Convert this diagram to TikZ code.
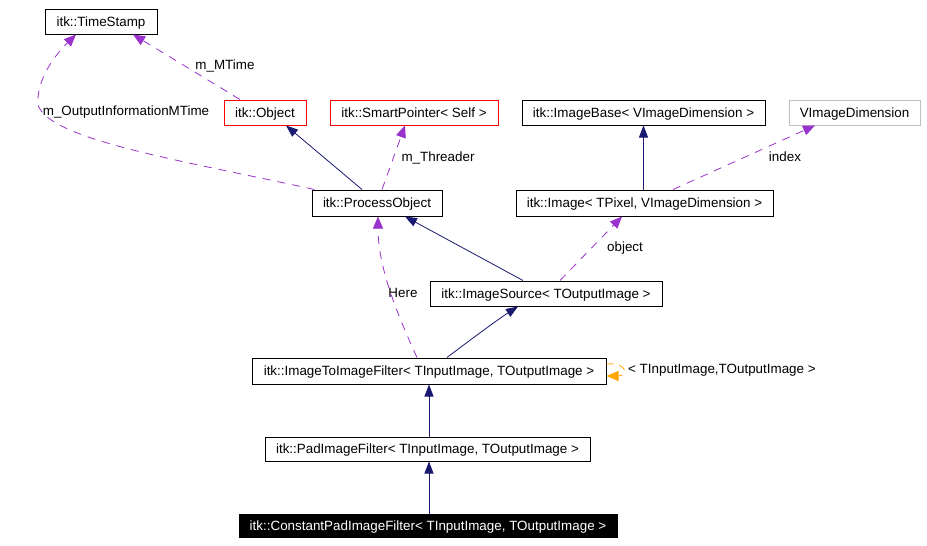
\documentclass[tikz,border=0pt]{standalone}
\usepackage{fontspec}
\setmainfont{Liberation Sans}
\usetikzlibrary{arrows.meta,calc}
\definecolor{navyc}{HTML}{191970}
\definecolor{purplec}{HTML}{9A32CD}
\definecolor{orangec}{HTML}{FFA500}
\definecolor{grayc}{HTML}{BFBFBF}
\begin{document}
\begin{tikzpicture}[x=1pt,y=-1pt,
  font=\fontsize{13.4}{15}\selectfont,
  box/.style={draw=black,line width=1pt,rectangle,inner sep=0pt,minimum height=25pt,text height=12pt,text depth=3pt},
  redbox/.style={box,draw=red},
  graybox/.style={box,draw=grayc},
  mainbox/.style={box,fill=black,text=white},
  inh/.style={draw=navyc,line width=0.8pt,-{Triangle[length=12pt,width=9pt]}},
  use/.style={draw=purplec,line width=0.8pt,dash pattern=on 8pt off 7pt,-{Triangle[length=12pt,width=10pt]},fill=none},
  tmpl/.style={draw=orangec,line width=0.8pt,dash pattern=on 7pt off 6pt,-{Triangle[length=12pt,width=10pt]},fill=none},
  lbl/.style={inner sep=0pt,anchor=center}]
\useasboundingbox (0,0) rectangle (927,546);
\fill[white] (0,0) rectangle (927,546);
% nodes
\node[box,minimum width=112pt] (ts) at (101,21.5) {itk::TimeStamp};
\node[redbox,minimum width=82pt] (obj) at (265,112.5) {itk::Object};
\node[redbox,minimum width=168pt] (sp) at (414,112.5) {itk::SmartPointer< Self >};
\node[box,minimum width=243pt] (ib) at (643.5,112.5) {itk::ImageBase< VImageDimension >};
\node[graybox,minimum width=131pt] (vd) at (854.5,112.5) {VImageDimension};
\node[box,minimum width=130pt,minimum height=26pt] (po) at (377,203) {itk::ProcessObject};
\node[box,minimum width=257pt,minimum height=26pt] (im) at (644.5,203) {itk::Image< TPixel, VImageDimension >};
\node[box,minimum width=232pt] (is) at (546,293.5) {itk::ImageSource< TOutputImage >};
\node[box,minimum width=354pt,minimum height=26pt] (itif) at (429,371) {itk::ImageToImageFilter< TInputImage, TOutputImage >};
\node[box,minimum width=325pt,minimum height=24pt] (pif) at (427.5,449) {itk::PadImageFilter< TInputImage, TOutputImage >};
\node[mainbox,minimum width=378pt,minimum height=23pt] (cp) at (428,525.5) {itk::ConstantPadImageFilter< TInputImage, TOutputImage >};
% labels
\node[lbl] (l1) at (225,66) {m\_MTime};
\node[lbl] (l2) at (126,112) {m\_OutputInformationMTime};
\node[lbl] (l3) at (438,158) {m\_Threader};
\node[lbl] (l4) at (785,157) {index};
\node[lbl] (l5) at (625,248) {object};
\node[lbl] (l6) at (403,293) {Here};
\node[lbl,anchor=west] (l7) at (628,370) {< TInputImage,TOutputImage >};
% edges
\draw[inh] ($(po.north)+(-15,0)$) -- ($(obj.south)+(21,0)$);
\draw[use] ($(po.north)+(5,0)$) -- ($(sp.south)+(-9,0)$);
\draw[use] ($(obj.north)+(-25,0)$) -- ($(ts.south)+(32,0)$);
\draw[use] ($(po.north west)+(3,0)$) .. controls (180,160) and (50,140) .. (38,105) .. controls (36,80) and (55,55) .. ($(ts.south)+(-25,0)$);
\draw[inh] (im.north -| ib.south) -- (ib.south);
\draw[use] ($(im.north)+(28.5,0)$) -- ($(vd.south)+(-39.5,0)$);
\draw[inh] ($(is.north)+(-23,0)$) -- ($(po.south)+(28,0)$);
\draw[use] ($(is.north)+(14,0)$) -- ($(im.south)+(-22.5,0)$);
\draw[use] ($(itif.north)+(-12,0)$) .. controls (400,320) and (378,270) .. ($(po.south)+(1,0)$);
\draw[inh] ($(itif.north)+(18,0)$) .. controls (470,340) and (500,318) .. ($(is.south)+(-28,0)$);
\draw[inh] (pif.north -| itif.south) -- (itif.south);
\draw[inh] (cp.north -| itif.south) -- (pif.south -| itif.south);
\draw[tmpl] ($(itif.east)+(0,-7)$) .. controls (628,362) and (628,376) .. ($(itif.east)+(0,5)$);
\end{tikzpicture}
\end{document}
